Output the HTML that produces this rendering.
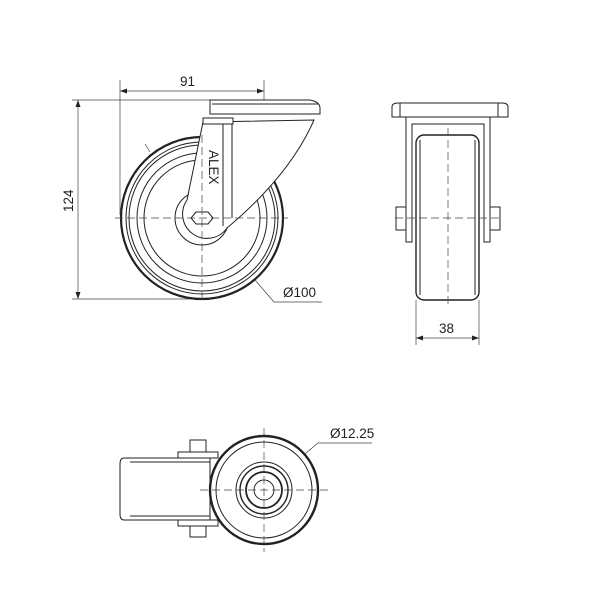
<!DOCTYPE html><html><head><style>body{margin:0;background:#fff}svg{display:block}text{font-family:"Liberation Sans",sans-serif;font-size:13.5px;fill:#222}</style></head><body>
<svg width="600" height="600" viewBox="0 0 600 600" fill="none" stroke="#222" stroke-width="1">
<g stroke="#444" stroke-width="0.7">
<line x1="120" y1="80" x2="120" y2="215"/><line x1="264" y1="80" x2="264" y2="100"/>
<line x1="120" y1="91" x2="264" y2="91"/>
<line x1="72" y1="100" x2="210" y2="100"/><line x1="72" y1="299" x2="200" y2="299"/>
<line x1="78" y1="100" x2="78" y2="299"/>
<polyline points="255,280 274,302 322,302"/>
<line x1="416" y1="300" x2="416" y2="345"/><line x1="479" y1="300" x2="479" y2="345"/>
<line x1="416" y1="338" x2="479" y2="338"/>
<polyline points="372,443 318,443 250,500"/>
<line x1="145" y1="144" x2="150" y2="152"/>
</g>
<g fill="#222" stroke="none">
<path d="M120,91 l7,-2.5 v5z"/><path d="M264,91 l-7,-2.5 v5z"/>
<path d="M78,100 l-2.5,7 h5z"/><path d="M78,299 l-2.5,-7 h5z"/>
<path d="M416,338 l7,-2.5 v5z"/><path d="M479,338 l-7,-2.5 v5z"/>
</g>
<text x="180" y="86" stroke="none">91</text>
<text x="0" y="0" stroke="none" transform="translate(73,212) rotate(-90)">124</text>
<text x="283" y="297" stroke="none">Ø100</text>
<text x="439" y="333" stroke="none">38</text>
<text x="330" y="438" stroke="none">Ø12.25</text>
<!-- front view -->
<circle cx="202" cy="218" r="81" stroke-width="2.2"/>
<circle cx="202" cy="218" r="76"/><circle cx="202" cy="218" r="73"/>
<circle cx="202" cy="218" r="65"/><circle cx="202" cy="218" r="58"/>
<circle cx="202" cy="218" r="27" fill="#fff"/>
<path d="M203,122 L187,200 A20,20 0 0 0 227,228 Q290,175 314,120 Z" fill="#fff"/>
<line x1="223" y1="124" x2="223" y2="226"/><line x1="232" y1="124" x2="232" y2="218"/>
<rect x="203" y="118" width="30" height="6" fill="#fff"/>
<path d="M210,100 h100 q10,2 10,8 v6 h-110z" fill="#fff"/>
<line x1="212" y1="104" x2="318" y2="104"/>
<polygon points="196,212 208,212 213,218 208,224 196,224 191,218" fill="#fff"/>
<text x="0" y="0" stroke="none" font-size="11" transform="translate(209,150) rotate(90)">ALEX</text>
<g stroke="#444" stroke-width="0.7" stroke-dasharray="8,4">
<line x1="115" y1="218" x2="288" y2="218"/><line x1="202" y1="135" x2="202" y2="303"/>
</g>
<!-- side view -->
<path d="M392,117 v-10 q0,-4 6,-4 h104 q6,0 6,4 v10z" fill="#fff"/>
<line x1="400" y1="103" x2="400" y2="117"/><line x1="498" y1="103" x2="498" y2="117"/>
<path d="M406,117 h84 v125 h-6 v-118 h-72 v118 h-6z" fill="#fff"/>
<rect x="416" y="135" width="63" height="165" rx="8" fill="#fff" stroke-width="1.4"/>
<line x1="420" y1="140" x2="420" y2="295"/><line x1="475" y1="140" x2="475" y2="295"/>
<rect x="396" y="207" width="10" height="23" fill="#fff"/><rect x="490" y="207" width="10" height="23" fill="#fff"/>
<g stroke="#444" stroke-width="0.7" stroke-dasharray="8,4">
<line x1="448" y1="128" x2="448" y2="305"/><line x1="395" y1="218" x2="500" y2="218"/>
</g>
<!-- bottom view -->
<path d="M124,458 h86 v62 h-86 q-4,0 -4,-6 v-50 q0,-6 4,-6z" fill="#fff"/>
<line x1="130" y1="462" x2="210" y2="462"/><line x1="130" y1="516" x2="210" y2="516"/>
<rect x="178" y="452" width="40" height="6" fill="#fff"/><rect x="178" y="520" width="40" height="6" fill="#fff"/>
<rect x="190" y="440" width="16" height="12" fill="#fff"/><rect x="190" y="526" width="16" height="11" fill="#fff"/>
<circle cx="264" cy="490" r="54" stroke-width="2.4" fill="#fff"/>
<circle cx="264" cy="490" r="48"/>
<circle cx="264" cy="490" r="28"/><circle cx="264" cy="490" r="24" stroke-width="1.4"/>
<circle cx="264" cy="490" r="18" stroke-width="1.8"/><circle cx="264" cy="490" r="10"/>
<g stroke="#444" stroke-width="0.7" stroke-dasharray="8,4">
<line x1="200" y1="490" x2="328" y2="490"/><line x1="264" y1="428" x2="264" y2="552"/>
</g>
</svg></body></html>
